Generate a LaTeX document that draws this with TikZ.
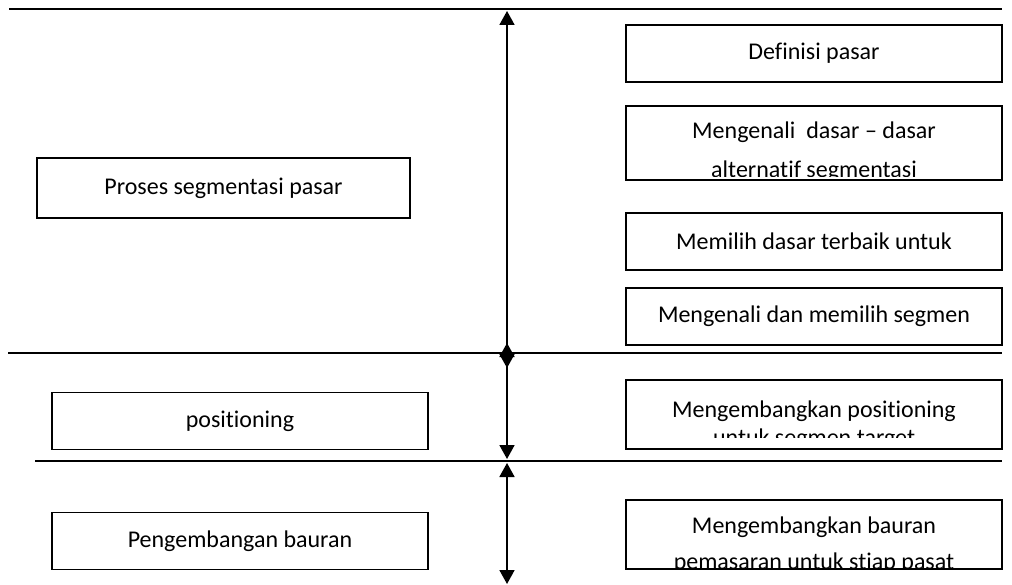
\documentclass[tikz,border=0pt]{standalone}
\usepackage{fontspec}
\setmainfont{Carlito}[Ligatures=NoCommon]
\usetikzlibrary{arrows.meta}

\tikzset{
    box/.style = {draw, line width=1.7pt, inner sep=0pt,
        minimum width=376pt, minimum height=57pt},
    rule/.style = {line width=2.4pt},
    link/.style = {line width=1.8pt,
        {Triangle[length=14pt, width=15pt]}-{Triangle[length=14pt, width=15pt]}},
    twoline/.style n args = {5}{path picture = {
        \clip (path picture bounding box.north west) rectangle
            ([yshift=#5]path picture bounding box.south east);
        \node[anchor=base] at ([yshift=-#1]path picture bounding box.north) {#2};
        \node[anchor=base] at ([yshift=-#3]path picture bounding box.north) {#4};
    }},
}

\begin{document}
\begin{tikzpicture}[x=1pt, y=-1pt,
    every node/.style = {font=\fontsize{24}{28}\selectfont}]
    \useasboundingbox (0,0) rectangle (1012,585);

    %% separator rules
    \coordinate (r1w) at (9,9);    \coordinate (r1e) at (1002,9);
    \coordinate (r2w) at (8,353);  \coordinate (r2e) at (1002,353);
    \coordinate (r3w) at (35,461); \coordinate (r3e) at (1002,461);
    \draw[rule] (r1w) -- (r1e);
    \draw[rule] (r2w) -- (r2e);
    \draw[rule] (r3w) -- (r3e);

    %% left column
    \node[box, minimum width=373pt, minimum height=60pt] (proses) at (223.5,188)
        {Proses segmentasi pasar};
    \node[box] (posisi) at (240,421) {positioning};
    \node[box] (bauran) at (240,541) {Pengembangan bauran};

    %% right column
    \node[box] (definisi) at (814,53.5) {Definisi pasar};
    \node[box, minimum height=74pt,
        twoline = {33pt}{Mengenali\ \ dasar -- dasar}{72pt}{alternatif segmentasi}{3pt}]
        (dasar) at (814,143) {};
    \node[box] (memilih) at (814,241.5) {Memilih dasar terbaik untuk};
    \node[box] (segmen) at (814,316.5) {Mengenali dan memilih segmen};
    \node[box, minimum height=69pt,
        twoline = {37pt}{Mengembangkan positioning}{65pt}{untuk segmen target}{12pt}]
        (target) at (814,414.5) {};
    \node[box, minimum height=69pt,
        twoline = {33pt}{Mengembangkan bauran}{69pt}{pemasaran untuk stiap pasat}{2pt}]
        (pasar) at (814,534.5) {};

    %% arrows
    \coordinate (a1) at (507,11);  \coordinate (a2) at (507,368);
    \coordinate (b1) at (507,343); \coordinate (b2) at (507,459);
    \coordinate (c1) at (507,463); \coordinate (c2) at (507,584);
    \draw[link] (a1) -- (a2);
    \draw[link] (b1) -- (b2);
    \draw[link] (c1) -- (c2);
\end{tikzpicture}
\end{document}
